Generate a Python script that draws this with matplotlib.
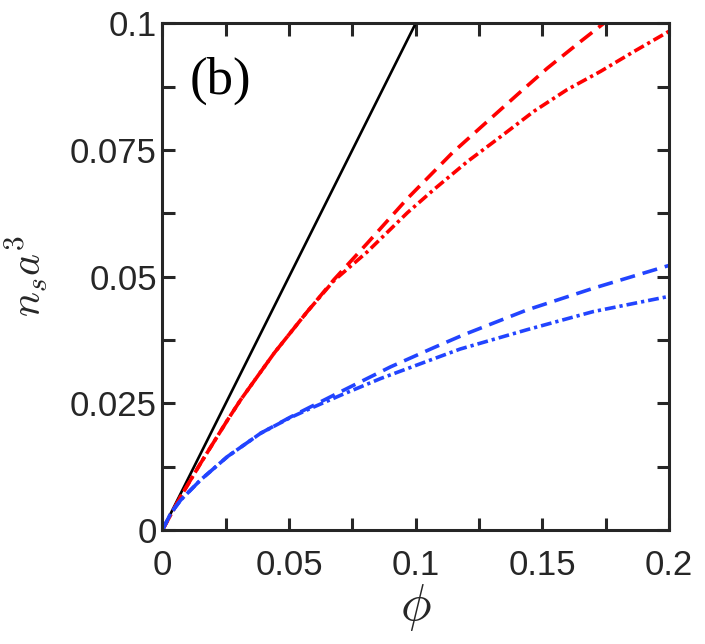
import numpy as np
import matplotlib
matplotlib.use("Agg")
import matplotlib.pyplot as plt

plt.rcParams['font.family'] = ['Liberation Sans', 'DejaVu Sans']
plt.rcParams['mathtext.fontset'] = 'cm'

# values (phi, n_s a^3)
black_x = [0.0, 0.1]
black_y = [0.0, 0.1]

red_dash_x = [0, 0.0072, 0.0151, 0.0257, 0.0309, 0.0441, 0.0572, 0.0677, 0.0809,
              0.0967, 0.1144, 0.1269, 0.1401, 0.1519, 0.1651, 0.1743]
red_dash_y = [0, 0.0066, 0.0132, 0.0217, 0.0257, 0.0349, 0.0431, 0.0494, 0.0566,
              0.0654, 0.0744, 0.0800, 0.0859, 0.0911, 0.0964, 0.1000]

red_dd_x = [0, 0.0072, 0.0151, 0.0257, 0.0309, 0.0441, 0.0572, 0.0677, 0.0809, 0.0967,
            0.1072, 0.1204, 0.1335, 0.1466, 0.1598, 0.1730, 0.1861, 0.2]
red_dd_y = [0, 0.0066, 0.0132, 0.0217, 0.0257, 0.0349, 0.0431, 0.0492, 0.0549, 0.0626,
            0.0672, 0.0727, 0.0776, 0.0826, 0.0869, 0.0905, 0.0944, 0.0984]

blue_dash_x = [0, 0.0033, 0.0072, 0.0151, 0.0257, 0.0388, 0.0506, 0.0585, 0.0704,
               0.0901, 0.1072, 0.1188, 0.1438, 0.1701, 0.2]
blue_dash_y = [0, 0.0033, 0.0059, 0.0099, 0.0145, 0.0191, 0.0223, 0.0243, 0.0273,
               0.0322, 0.0360, 0.0385, 0.0434, 0.0477, 0.0522]

blue_dd_x = [0, 0.0033, 0.0072, 0.0151, 0.0257, 0.0388, 0.0506, 0.0585, 0.0704,
             0.0862, 0.1072, 0.1175, 0.1438, 0.1701, 0.2]
blue_dd_y = [0, 0.0033, 0.0059, 0.0099, 0.0145, 0.0191, 0.0222, 0.0240, 0.0266,
             0.0299, 0.0338, 0.0357, 0.0395, 0.0431, 0.0461]

x_ticks = [0, 0.05, 0.1, 0.15, 0.2]
x_ticklabels = ['0', '0.05', '0.1', '0.15', '0.2']
y_ticks = [0, 0.025, 0.05, 0.075, 0.1]
y_ticklabels = ['0', '0.025', '0.05', '0.075', '0.1']

dark = '#262626'
red = '#ff0000'
blue = '#2244ff'

fig = plt.figure(figsize=(7.05, 6.44), dpi=100)
ax = fig.add_axes([0.2304, 0.177, 0.7186, 0.787])

lw = 2.6
dash = (4.2, 2.2)
dashdot = (3.0, 1.1, 0.9, 1.1)
ax.plot(black_x, black_y, color='black', lw=1.9)
ax.plot(red_dash_x, red_dash_y, color=red, lw=lw, dashes=dash)
ax.plot(red_dd_x, red_dd_y, color=red, lw=lw, dashes=dashdot)
ax.plot(blue_dash_x, blue_dash_y, color=blue, lw=lw, dashes=dash)
ax.plot(blue_dd_x, blue_dd_y, color=blue, lw=lw, dashes=dashdot)

ax.set_xlim(0, 0.2)
ax.set_ylim(0, 0.1)
ax.set_xticks(x_ticks)
ax.set_xticklabels(x_ticklabels)
ax.set_yticks(y_ticks)
ax.set_yticklabels(y_ticklabels)
ax.set_xticks(np.arange(0, 0.2001, 0.025), minor=True)
ax.set_yticks(np.arange(0, 0.1001, 0.0125), minor=True)

for s in ax.spines.values():
    s.set_linewidth(2.2)
    s.set_color(dark)

ax.tick_params(which='both', direction='in', top=True, right=True,
               length=9, width=2.2, color=dark, labelcolor=dark, labelsize=25)
ax.tick_params(axis='x', pad=14)
ax.tick_params(axis='y', pad=4)

ax.set_xlabel(r'$\phi$', fontsize=37, color=dark, labelpad=0)
ax.set_ylabel(r'$n_s a^3$', fontsize=30, color=dark, labelpad=14)

ax.text(0.054, 0.887, '(b)', transform=ax.transAxes, fontsize=38,
        family='Liberation Serif', va='center', ha='left', color='black')

fig.savefig('out.png', dpi=100)
